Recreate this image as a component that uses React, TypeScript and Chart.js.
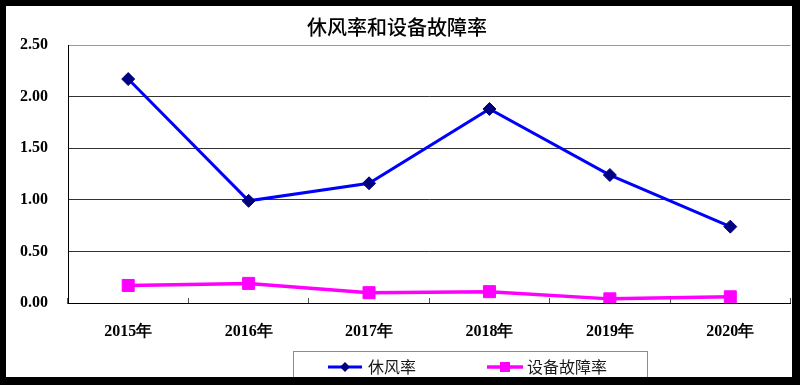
import React, { useEffect, useRef } from "react";
import { Chart, registerables } from "chart.js";

Chart.register(...registerables);

const titleText = "休风率和设备故障率";
const categories = ["2015年", "2016年", "2017年", "2018年", "2019年", "2020年"];
const seriesNames = ["休风率", "设备故障率"];
const xiufengRate = [2.17, 0.99, 1.16, 1.88, 1.24, 0.74];
const faultRate = [0.17, 0.19, 0.1, 0.11, 0.04, 0.06];
const yMin = 0;
const yMax = 2.5;
const yStep = 0.5;

const serifBold = { family: "'Times New Roman', 'Liberation Serif', serif", size: 16, weight: "bold" as const };

const framePlugin = {
  id: "frameAndLegend",
  afterDraw(chart: any) {
    const ctx = chart.ctx as CanvasRenderingContext2D;
    const W = chart.width;
    const H = chart.height;
    ctx.save();
    // legend box
    ctx.strokeStyle = "#8c8c8c";
    ctx.lineWidth = 1;
    ctx.strokeRect(293.5, 351.5, 354, 40);
    const slots = [
      { x0: 328, x1: 362, tx: 368 },
      { x0: 487, x1: 523, tx: 527 },
    ];
    const y = 367;
    chart.data.datasets.forEach((ds: any, i: number) => {
      const s = slots[i];
      ctx.strokeStyle = ds.borderColor;
      ctx.lineWidth = ds.borderWidth;
      ctx.beginPath();
      ctx.moveTo(s.x0, y);
      ctx.lineTo(s.x1, y);
      ctx.stroke();
      const cx = (s.x0 + s.x1) / 2;
      ctx.fillStyle = ds.pointBackgroundColor;
      ctx.beginPath();
      if (ds.pointStyle === "rectRot") {
        ctx.moveTo(cx - 5, y);
        ctx.lineTo(cx, y - 5);
        ctx.lineTo(cx + 5, y);
        ctx.lineTo(cx, y + 5);
        ctx.closePath();
      } else {
        ctx.rect(cx - 5, y - 5, 10, 10);
      }
      ctx.fill();
      ctx.fillStyle = "#1a1a1a";
      ctx.font = "16px 'Noto Sans CJK SC', sans-serif";
      ctx.textBaseline = "middle";
      ctx.textAlign = "left";
      ctx.fillText(ds.label, s.tx, y);
    });
    // black frame
    ctx.fillStyle = "#000";
    ctx.fillRect(0, 0, W, 6);
    ctx.fillRect(0, 0, 6, H);
    ctx.fillRect(792, 0, W - 792, H);
    ctx.fillRect(0, 377, W, H - 377);
    ctx.restore();
  },
};

export default function App() {
  const ref = useRef<HTMLCanvasElement | null>(null);
  useEffect(() => {
    if (!ref.current) return;
    const chart = new Chart(ref.current, {
      type: "line",
      data: {
        labels: categories,
        datasets: [
          {
            label: seriesNames[0],
            data: xiufengRate,
            borderColor: "#0000ff",
            borderWidth: 3,
            pointStyle: "rectRot",
            pointRadius: 6.5,
            pointBackgroundColor: "#000080",
            pointBorderColor: "#000080",
            pointBorderWidth: 1,
            tension: 0,
          },
          {
            label: seriesNames[1],
            data: faultRate,
            borderColor: "#ff00ff",
            borderWidth: 3.5,
            pointStyle: "rect",
            pointRadius: 8.5,
            pointBackgroundColor: "#ff00ff",
            pointBorderColor: "#ff00ff",
            pointBorderWidth: 1,
            tension: 0,
          },
        ],
      },
      options: {
        animation: false,
        responsive: false,
        layout: { padding: { left: 0, right: 6, top: 0, bottom: 40 } },
        plugins: {
          legend: { display: false },
          tooltip: { enabled: false },
          title: {
            display: true,
            text: titleText,
            color: "#000",
            font: { family: "'Noto Sans CJK SC', sans-serif", size: 20, weight: "500" },
            padding: { top: 15, bottom: 6 },
          },
        },
        scales: {
          x: {
            type: "category",
            offset: true,
            grid: {
              offset: true,
              drawOnChartArea: false,
              drawTicks: true,
              tickLength: -5,
              color: "#555",
            },
            border: { color: "#000", width: 1 },
            ticks: { color: "#000", font: serifBold, padding: 24, maxRotation: 0 },
            afterFit: (scale: any) => {
              scale.height = 42;
            },
          },
          y: {
            min: yMin,
            max: yMax,
            grid: {
              drawTicks: false,
              color: (c: any) => (c.tick && c.tick.value === yMax ? "#9a9a9a" : "#333"),
            },
            border: { color: "#000", width: 1 },
            ticks: {
              stepSize: yStep,
              color: "#000",
              font: serifBold,
              padding: 20,
              callback: (v: any) => Number(v).toFixed(2),
            },
            afterFit: (scale: any) => {
              scale.width = 68;
            },
          },
        },
      },
      plugins: [framePlugin],
    });
    return () => chart.destroy();
  }, []);
  return (
    <div style={{ position: "fixed", left: 0, top: 0, width: 800, height: 385, background: "#fff" }}>
      <canvas ref={ref} width={800} height={385} style={{ display: "block" }} />
    </div>
  );
}
